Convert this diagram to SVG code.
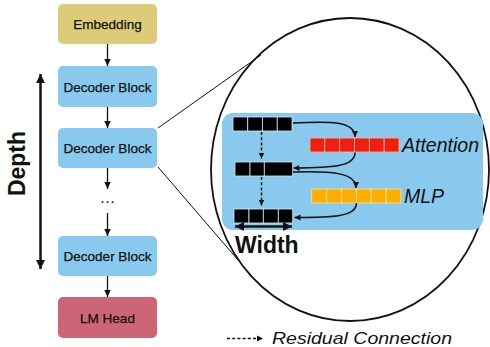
<svg xmlns="http://www.w3.org/2000/svg" width="490" height="347" viewBox="0 0 490 347">
<style>
  text { font-family: "Liberation Sans", Arial, sans-serif; fill: #111; }
  .lbl { font-size: 13.5px; text-anchor: middle; stroke: #111; stroke-width: 0.25; }
  .it { font-style: italic; }
  .bold { font-weight: bold; }
  .thin { stroke: #111; stroke-width: 1.3; fill: none; }
  .thick { stroke: #111; stroke-width: 2.5; fill: none; }
  .curve { stroke: #111; stroke-width: 1.5; fill: none; }
  .dash { stroke: #111; stroke-width: 1.5; fill: none; stroke-dasharray: 3 2.2; }
  .blk { fill: #000; stroke: #cfe6f3; stroke-width: 0.8; }
  .red { fill: #ee2010; stroke: #f6b3ad; stroke-width: 0.8; }
  .org { fill: #fdae00; stroke: #fde1a0; stroke-width: 0.8; }
</style>
<defs>
  <marker id="ah" markerUnits="userSpaceOnUse" markerWidth="8" markerHeight="8" refX="7" refY="4" orient="auto">
    <path d="M0,0.8 L7,4 L0,7.2 z" fill="#111"/>
  </marker>
  <marker id="ahb" markerUnits="userSpaceOnUse" markerWidth="10" markerHeight="10" refX="9" refY="5" orient="auto-start-reverse">
    <path d="M0,0.5 L9,5 L0,9.5 z" fill="#111"/>
  </marker>
  <marker id="ahs" markerUnits="userSpaceOnUse" markerWidth="7" markerHeight="7" refX="6" refY="3.5" orient="auto">
    <path d="M0,0.5 L6,3.5 L0,6.5 z" fill="#111"/>
  </marker>
</defs>

<!-- zoom ellipse and guide lines -->
<g id="zoom">
  <ellipse cx="350" cy="169.5" rx="139" ry="151.5" fill="none" stroke="#111" stroke-width="1.8"/>
  <line x1="158" y1="128" x2="261" y2="55" stroke="#111" stroke-width="1"/>
  <line x1="158" y1="167" x2="238" y2="260" stroke="#111" stroke-width="1"/>
</g>

<!-- left column nodes -->
<g id="embedding">
  <rect x="58" y="4" width="99" height="40" rx="5" fill="#dccb79"/>
  <text class="lbl" x="107.5" y="29">Embedding</text>
</g>
<g id="decoder1">
  <rect x="58" y="66" width="99" height="41" rx="5" fill="#89c9ed"/>
  <text class="lbl" x="107.5" y="91.5">Decoder Block</text>
</g>
<g id="decoder2">
  <rect x="58" y="128" width="99" height="40" rx="5" fill="#89c9ed"/>
  <text class="lbl" x="107.5" y="153">Decoder Block</text>
</g>
<g id="dots">
  <text x="107.5" y="203" font-size="16" text-anchor="middle">…</text>
</g>
<g id="decoder3">
  <rect x="58" y="236" width="99" height="40" rx="5" fill="#89c9ed"/>
  <text class="lbl" x="107.5" y="261">Decoder Block</text>
</g>
<g id="lmhead">
  <rect x="58" y="297" width="99" height="41" rx="5" fill="#cc6676"/>
  <text class="lbl" x="107.5" y="322.5">LM Head</text>
</g>
<g id="depth">
  <line class="thick" x1="40.5" y1="74" x2="40.5" y2="269" marker-start="url(#ahb)" marker-end="url(#ahb)"/>
  <text class="bold" font-size="23" text-anchor="middle" transform="translate(25,163.5) rotate(-90)">Depth</text>
</g>

<!-- zoomed decoder block -->
<g id="block-detail">
  <rect x="222" y="113" width="261" height="117" rx="11" fill="#89c9ed"/>
  <g id="tokens-in">
    <rect class="blk" x="233" y="117" width="14.75" height="14"/>
    <rect class="blk" x="247.75" y="117" width="14.75" height="14"/>
    <rect class="blk" x="262.5" y="117" width="14.75" height="14"/>
    <rect class="blk" x="277.25" y="117" width="14.75" height="14"/>
  </g>
  <g id="tokens-mid">
    <rect class="blk" x="235" y="162" width="15" height="14"/>
    <rect class="blk" x="250" y="162" width="14.3" height="14"/>
    <rect class="blk" x="264.3" y="162" width="28.4" height="14"/>
  </g>
  <g id="tokens-out">
    <rect class="blk" x="234" y="209" width="15" height="14"/>
    <rect class="blk" x="249" y="209" width="14.3" height="14"/>
    <rect class="blk" x="263.3" y="209" width="15" height="14"/>
    <rect class="blk" x="278.3" y="209" width="14.4" height="14"/>
  </g>
  <g id="attention">
    <rect class="red" x="310" y="138" width="14.83" height="14"/>
    <rect class="red" x="324.83" y="138" width="14.83" height="14"/>
    <rect class="red" x="339.66" y="138" width="14.83" height="14"/>
    <rect class="red" x="354.5" y="138" width="14.83" height="14"/>
    <rect class="red" x="369.33" y="138" width="14.83" height="14"/>
    <rect class="red" x="384.16" y="138" width="14.84" height="14"/>
    <text class="it" x="402" y="151.5" font-size="19.5">Attention</text>
  </g>
  <g id="mlp">
    <rect class="org" x="311.7" y="189" width="14.88" height="14"/>
    <rect class="org" x="326.58" y="189" width="14.88" height="14"/>
    <rect class="org" x="341.46" y="189" width="14.88" height="14"/>
    <rect class="org" x="356.34" y="189" width="14.88" height="14"/>
    <rect class="org" x="371.22" y="189" width="14.88" height="14"/>
    <rect class="org" x="386.1" y="189" width="14.9" height="14"/>
    <text class="it" x="404" y="202.5" font-size="19.5">MLP</text>
  </g>
  <g id="width">
    <line class="thick" x1="235" y1="226.5" x2="292" y2="226.5" marker-start="url(#ahb)" marker-end="url(#ahb)"/>
    <text class="bold" x="235" y="253" font-size="23">Width</text>
  </g>
</g>

<!-- legend -->
<g id="legend">
  <line class="dash" x1="227" y1="338.5" x2="263" y2="338.5" marker-end="url(#ahs)"/>
  <text class="it" x="272" y="343.5" font-size="17" textLength="180" lengthAdjust="spacingAndGlyphs">Residual Connection</text>
</g>

<!-- connectors -->
<g id="connectors">
  <line class="thin" x1="107.5" y1="44" x2="107.5" y2="66" marker-end="url(#ah)"/>
  <line class="thin" x1="107.5" y1="107" x2="107.5" y2="128" marker-end="url(#ah)"/>
  <line class="thin" x1="107.5" y1="168" x2="107.5" y2="189" marker-end="url(#ah)"/>
  <line class="thin" x1="107.5" y1="213" x2="107.5" y2="236" marker-end="url(#ah)"/>
  <line class="thin" x1="107.5" y1="276" x2="107.5" y2="297" marker-end="url(#ah)"/>
  <line class="dash" x1="261.5" y1="132" x2="261.5" y2="158.5" marker-end="url(#ahs)"/>
  <line class="dash" x1="261.5" y1="177" x2="261.5" y2="205.5" marker-end="url(#ahs)"/>
  <path class="curve" d="M293,123 C330,121 355,121 355,137" marker-end="url(#ahs)"/>
  <path class="curve" d="M355,152.5 C355,167 332,167.5 293.5,168" marker-end="url(#ahs)"/>
  <path class="curve" d="M293,172 C330,171 356,172 356,188" marker-end="url(#ahs)"/>
  <path class="curve" d="M356.5,203 C356.5,217 332,217.5 294.5,217.5" marker-end="url(#ahs)"/>
</g>
</svg>
